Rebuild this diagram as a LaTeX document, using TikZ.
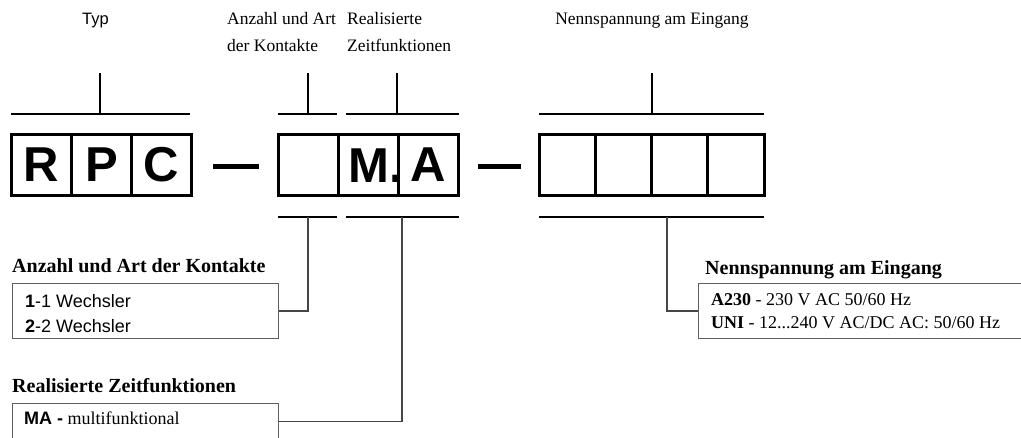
\documentclass[tikz,border=0pt]{standalone}
\usepackage{fontspec}
\setmainfont{Liberation Serif}
\newfontfamily\arialfont{Liberation Sans}
\usetikzlibrary{positioning,calc}

\definecolor{linegray}{RGB}{70,70,70}
\definecolor{boxgray}{RGB}{95,95,95}

\tikzset{
  cell/.style={draw, line width=3pt, outer sep=0pt, inner sep=0pt,
    minimum width=#1, minimum height=61pt,
    font=\arialfont\bfseries\fontsize{49}{49}\selectfont},
  cell/.default=60pt,
  letter/.style={inner sep=0pt, font=\arialfont\bfseries\fontsize{49}{49}\selectfont},
  bracket/.style={line width=1.8pt},
  bar/.style={line width=4.5pt},
  link/.style={draw=linegray, line width=1.3pt},
  infobox/.style={draw=boxgray, line width=1pt, inner sep=0pt, anchor=north west},
  caption/.style={inner sep=0pt, align=left, font=\fontsize{17.5}{27}\selectfont},
  heading/.style={inner sep=0pt, anchor=base west, font=\bfseries\fontsize{20}{24}\selectfont},
  boxtext/.style={inner sep=0pt, anchor=north west, align=left}
}

\begin{document}
\begin{tikzpicture}[x=1pt,y=-1pt]
  \useasboundingbox (0,0) rectangle (1021,437);
  \clip (0,0) rectangle (1021,437);
  \def\yc{164.75} % middle of the code cells
  \def\vw{56.25} % width of a voltage cell

  % code cells
  \foreach \l [count=\i from 0] in {R,P,C}
    \node[cell] (typ\i) at (41.5+\i*60,\yc) {\l};
  \foreach \i in {0,1,2}
    \node[cell] (mod\i) at (308+\i*60,\yc) {};
  \foreach \i in {0,1,2,3}
    \node[cell=\vw pt] (vol\i) at (539+\vw/2+\i*\vw,\yc) {};
  \node[letter, anchor=base east] (zfM) at ($(mod1.east)+(5,17.5)$) {M.};
  \node[letter] (zfA) at (mod2) {A};

  % separators
  \draw[bar] ($(typ2.east)+(21,1.5)$) -- ++(46,0);
  \draw[bar] ($(mod2.east)+(20,1.5)$) -- ++(43,0);

  % brackets above
  \draw[bracket] (11,114) -- (190,114) (100,114) -- (100,73);
  \draw[bracket] (278,114) -- (337,114) (308,114) -- (308,73);
  \draw[bracket] (346,114) -- (459,114) (397,114) -- (397,73);
  \draw[bracket] (539,114) -- (764,114) (652,114) -- (652,73);

  % brackets below
  \draw[bracket] (278,217) -- (337,217);
  \draw[bracket] (346,217) -- (459,217);
  \draw[bracket] (539,217) -- (764,217);
  \coordinate (kb) at (308,217);
  \coordinate (zb) at (402,217);
  \coordinate (sb) at (667,217);

  % top captions
  \node[inner sep=0pt, anchor=base, font=\arialfont\fontsize{16.5}{20}\selectfont]
    (typ) at (95.5,24) {Typ};
  \node[caption, anchor=north west] (kontakteCap) at (227,11.7) {Anzahl und Art\\der Kontakte};
  \node[caption, anchor=north west] (zeitCap) at (347,11.7) {Realisierte\\Zeitfunktionen};
  \node[caption, anchor=base] (spannungCap) at (652,24) {Nennspannung am Eingang};

  % info boxes
  \node[infobox, minimum width=266pt, minimum height=55pt] (kontakte) at (12,283) {};
  \node[infobox, minimum width=266pt, minimum height=36pt] (zeit) at (12,403) {};
  \node[infobox, minimum width=340pt, minimum height=55pt] (spannung) at (698,283) {};

  \node[heading] (kontakteHead) at ($(kontakte.north west)+(0,-11)$) {Anzahl und Art der Kontakte};
  \node[heading] (zeitHead) at ($(zeit.north west)+(0,-11)$) {Realisierte Zeitfunktionen};
  \node[heading] (spannungHead) at ($(spannung.north west)+(7,-9)$) {Nennspannung am Eingang};

  \node[boxtext, font=\arialfont\fontsize{18}{25}\selectfont] (kontakteTxt)
    at ($(kontakte.north west)+(13,11)$) {\textbf{1}-1 Wechsler\\\textbf{2}-2 Wechsler};
  \node[boxtext, font=\fontsize{18}{23}\selectfont] (zeitTxt)
    at ($(zeit.north west)+(12,9)$) {{\arialfont\bfseries MA -} multifunktional};
  \node[boxtext, font=\fontsize{18}{23}\selectfont] (spannungTxt)
    at ($(spannung.north west)+(13,10.5)$)
    {\textbf{A230} - 230 V AC 50/60 Hz\\\textbf{UNI} - 12...240 V AC/DC AC: 50/60 Hz};

  % links
  \draw[link] (kb) |- (kontakte);
  \draw[link] (zb) |- (zeit);
  \draw[link] (sb) |- (spannung);
\end{tikzpicture}
\end{document}
